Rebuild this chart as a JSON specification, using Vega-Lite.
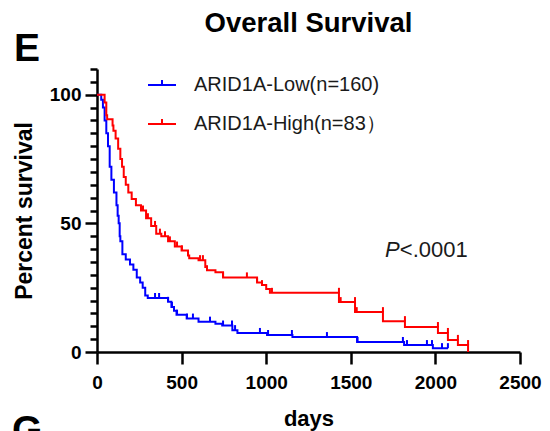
{
  "$schema": "https://vega.github.io/schema/vega-lite/v6.json",
  "width": 423,
  "height": 283,
  "autosize": {"type": "none"},
  "padding": {"left": 97, "top": 69, "right": 30, "bottom": 79},
  "background": "white",
  "title": {"text": "Overall Survival", "font": "Liberation Sans", "fontSize": 27.5, "fontWeight": "bold", "color": "black", "anchor": "middle", "baseline": "alphabetic", "offset": -30, "frame": "group"},
  "config": {
    "view": {"stroke": null},
    "axis": {"domainColor": "black", "domainWidth": 2.5, "tickColor": "black", "tickWidth": 2.5, "labelFont": "Liberation Sans", "labelFontSize": 19, "labelFontWeight": "bold", "labelColor": "black", "titleFont": "Liberation Sans", "titleFontWeight": "bold", "titleColor": "black", "grid": false, "labelOverlap": false}
  },
  "datasets": {
    "curves": [
      {"group": "ARID1A-Low(n=160)", "day": 0, "surv": 100},
      {"group": "ARID1A-Low(n=160)", "day": 25, "surv": 98},
      {"group": "ARID1A-Low(n=160)", "day": 35, "surv": 95},
      {"group": "ARID1A-Low(n=160)", "day": 45, "surv": 90},
      {"group": "ARID1A-Low(n=160)", "day": 55, "surv": 85},
      {"group": "ARID1A-Low(n=160)", "day": 65, "surv": 80},
      {"group": "ARID1A-Low(n=160)", "day": 75, "surv": 72},
      {"group": "ARID1A-Low(n=160)", "day": 85, "surv": 67},
      {"group": "ARID1A-Low(n=160)", "day": 100, "surv": 62},
      {"group": "ARID1A-Low(n=160)", "day": 115, "surv": 57},
      {"group": "ARID1A-Low(n=160)", "day": 122, "surv": 53},
      {"group": "ARID1A-Low(n=160)", "day": 128, "surv": 50},
      {"group": "ARID1A-Low(n=160)", "day": 134, "surv": 45},
      {"group": "ARID1A-Low(n=160)", "day": 138, "surv": 43},
      {"group": "ARID1A-Low(n=160)", "day": 150, "surv": 38},
      {"group": "ARID1A-Low(n=160)", "day": 170, "surv": 36},
      {"group": "ARID1A-Low(n=160)", "day": 195, "surv": 34},
      {"group": "ARID1A-Low(n=160)", "day": 215, "surv": 32},
      {"group": "ARID1A-Low(n=160)", "day": 235, "surv": 29},
      {"group": "ARID1A-Low(n=160)", "day": 255, "surv": 27},
      {"group": "ARID1A-Low(n=160)", "day": 270, "surv": 25},
      {"group": "ARID1A-Low(n=160)", "day": 285, "surv": 22},
      {"group": "ARID1A-Low(n=160)", "day": 300, "surv": 21},
      {"group": "ARID1A-Low(n=160)", "day": 420, "surv": 19.5},
      {"group": "ARID1A-Low(n=160)", "day": 440, "surv": 17.5},
      {"group": "ARID1A-Low(n=160)", "day": 455, "surv": 16},
      {"group": "ARID1A-Low(n=160)", "day": 470, "surv": 14.5},
      {"group": "ARID1A-Low(n=160)", "day": 530, "surv": 13},
      {"group": "ARID1A-Low(n=160)", "day": 600, "surv": 11.8},
      {"group": "ARID1A-Low(n=160)", "day": 700, "surv": 11},
      {"group": "ARID1A-Low(n=160)", "day": 740, "surv": 10.3},
      {"group": "ARID1A-Low(n=160)", "day": 800, "surv": 8.5},
      {"group": "ARID1A-Low(n=160)", "day": 830, "surv": 7.4},
      {"group": "ARID1A-Low(n=160)", "day": 1005, "surv": 6.6},
      {"group": "ARID1A-Low(n=160)", "day": 1155, "surv": 5.8},
      {"group": "ARID1A-Low(n=160)", "day": 1537, "surv": 3.9},
      {"group": "ARID1A-Low(n=160)", "day": 1815, "surv": 2.7},
      {"group": "ARID1A-Low(n=160)", "day": 1985, "surv": 1.5},
      {"group": "ARID1A-Low(n=160)", "day": 2075, "surv": 1.5},
      {"group": "ARID1A-High(n=83）", "day": 0, "surv": 100},
      {"group": "ARID1A-High(n=83）", "day": 35, "surv": 100},
      {"group": "ARID1A-High(n=83）", "day": 45, "surv": 97},
      {"group": "ARID1A-High(n=83）", "day": 55, "surv": 92},
      {"group": "ARID1A-High(n=83）", "day": 60, "surv": 90.5},
      {"group": "ARID1A-High(n=83）", "day": 92, "surv": 88},
      {"group": "ARID1A-High(n=83）", "day": 97, "surv": 86},
      {"group": "ARID1A-High(n=83）", "day": 110, "surv": 83},
      {"group": "ARID1A-High(n=83）", "day": 125, "surv": 79},
      {"group": "ARID1A-High(n=83）", "day": 138, "surv": 75},
      {"group": "ARID1A-High(n=83）", "day": 148, "surv": 72},
      {"group": "ARID1A-High(n=83）", "day": 158, "surv": 68},
      {"group": "ARID1A-High(n=83）", "day": 170, "surv": 65},
      {"group": "ARID1A-High(n=83）", "day": 185, "surv": 62},
      {"group": "ARID1A-High(n=83）", "day": 205, "surv": 59.5},
      {"group": "ARID1A-High(n=83）", "day": 230, "surv": 57},
      {"group": "ARID1A-High(n=83）", "day": 260, "surv": 55},
      {"group": "ARID1A-High(n=83）", "day": 290, "surv": 52},
      {"group": "ARID1A-High(n=83）", "day": 320, "surv": 49},
      {"group": "ARID1A-High(n=83）", "day": 350, "surv": 46},
      {"group": "ARID1A-High(n=83）", "day": 380, "surv": 45},
      {"group": "ARID1A-High(n=83）", "day": 420, "surv": 43},
      {"group": "ARID1A-High(n=83）", "day": 460, "surv": 41},
      {"group": "ARID1A-High(n=83）", "day": 500, "surv": 39.5},
      {"group": "ARID1A-High(n=83）", "day": 538, "surv": 37.5},
      {"group": "ARID1A-High(n=83）", "day": 545, "surv": 36.4},
      {"group": "ARID1A-High(n=83）", "day": 600, "surv": 35.7},
      {"group": "ARID1A-High(n=83）", "day": 640, "surv": 33},
      {"group": "ARID1A-High(n=83）", "day": 650, "surv": 31.8},
      {"group": "ARID1A-High(n=83）", "day": 700, "surv": 31},
      {"group": "ARID1A-High(n=83）", "day": 745, "surv": 29},
      {"group": "ARID1A-High(n=83）", "day": 946, "surv": 27},
      {"group": "ARID1A-High(n=83）", "day": 975, "surv": 26},
      {"group": "ARID1A-High(n=83）", "day": 1000, "surv": 24.5},
      {"group": "ARID1A-High(n=83）", "day": 1022, "surv": 23},
      {"group": "ARID1A-High(n=83）", "day": 1430, "surv": 19.4},
      {"group": "ARID1A-High(n=83）", "day": 1525, "surv": 15.5},
      {"group": "ARID1A-High(n=83）", "day": 1690, "surv": 12},
      {"group": "ARID1A-High(n=83）", "day": 1820, "surv": 9.7},
      {"group": "ARID1A-High(n=83）", "day": 2015, "surv": 7.4},
      {"group": "ARID1A-High(n=83）", "day": 2074, "surv": 4.7},
      {"group": "ARID1A-High(n=83）", "day": 2133, "surv": 2.7},
      {"group": "ARID1A-High(n=83）", "day": 2193, "surv": 0}
    ],
    "censor": [
      {"group": "ARID1A-Low(n=160)", "day": 343, "surv": 21},
      {"group": "ARID1A-Low(n=160)", "day": 367, "surv": 21},
      {"group": "ARID1A-Low(n=160)", "day": 420, "surv": 19.5},
      {"group": "ARID1A-Low(n=160)", "day": 443, "surv": 17.5},
      {"group": "ARID1A-Low(n=160)", "day": 473, "surv": 14.5},
      {"group": "ARID1A-Low(n=160)", "day": 532, "surv": 13},
      {"group": "ARID1A-Low(n=160)", "day": 567, "surv": 13},
      {"group": "ARID1A-Low(n=160)", "day": 668, "surv": 11.8},
      {"group": "ARID1A-Low(n=160)", "day": 745, "surv": 10.3},
      {"group": "ARID1A-Low(n=160)", "day": 798, "surv": 10.3},
      {"group": "ARID1A-Low(n=160)", "day": 816, "surv": 8.5},
      {"group": "ARID1A-Low(n=160)", "day": 963, "surv": 7.4},
      {"group": "ARID1A-Low(n=160)", "day": 1011, "surv": 6.6},
      {"group": "ARID1A-Low(n=160)", "day": 1152, "surv": 6.6},
      {"group": "ARID1A-Low(n=160)", "day": 1359, "surv": 5.8},
      {"group": "ARID1A-Low(n=160)", "day": 1540, "surv": 3.9},
      {"group": "ARID1A-Low(n=160)", "day": 1808, "surv": 3.9},
      {"group": "ARID1A-Low(n=160)", "day": 1832, "surv": 2.7},
      {"group": "ARID1A-Low(n=160)", "day": 1950, "surv": 2.7},
      {"group": "ARID1A-Low(n=160)", "day": 1980, "surv": 2.7},
      {"group": "ARID1A-Low(n=160)", "day": 2039, "surv": 1.5},
      {"group": "ARID1A-Low(n=160)", "day": 2074, "surv": 1.5},
      {"group": "ARID1A-High(n=83）", "day": 272, "surv": 55},
      {"group": "ARID1A-High(n=83）", "day": 301, "surv": 52},
      {"group": "ARID1A-High(n=83）", "day": 343, "surv": 49},
      {"group": "ARID1A-High(n=83）", "day": 372, "surv": 46},
      {"group": "ARID1A-High(n=83）", "day": 402, "surv": 45},
      {"group": "ARID1A-High(n=83）", "day": 431, "surv": 43},
      {"group": "ARID1A-High(n=83）", "day": 473, "surv": 41},
      {"group": "ARID1A-High(n=83）", "day": 502, "surv": 39.5},
      {"group": "ARID1A-High(n=83）", "day": 538, "surv": 37.5},
      {"group": "ARID1A-High(n=83）", "day": 609, "surv": 35.7},
      {"group": "ARID1A-High(n=83）", "day": 626, "surv": 35.7},
      {"group": "ARID1A-High(n=83）", "day": 650, "surv": 31.8},
      {"group": "ARID1A-High(n=83）", "day": 745, "surv": 29},
      {"group": "ARID1A-High(n=83）", "day": 886, "surv": 29},
      {"group": "ARID1A-High(n=83）", "day": 946, "surv": 27},
      {"group": "ARID1A-High(n=83）", "day": 975, "surv": 26},
      {"group": "ARID1A-High(n=83）", "day": 1034, "surv": 23},
      {"group": "ARID1A-High(n=83）", "day": 1430, "surv": 23},
      {"group": "ARID1A-High(n=83）", "day": 1440, "surv": 19.4},
      {"group": "ARID1A-High(n=83）", "day": 1525, "surv": 19.4},
      {"group": "ARID1A-High(n=83）", "day": 1535, "surv": 15.5},
      {"group": "ARID1A-High(n=83）", "day": 1690, "surv": 15.5},
      {"group": "ARID1A-High(n=83）", "day": 1820, "surv": 12},
      {"group": "ARID1A-High(n=83）", "day": 2015, "surv": 9.7},
      {"group": "ARID1A-High(n=83）", "day": 2074, "surv": 7.4},
      {"group": "ARID1A-High(n=83）", "day": 2133, "surv": 4.7},
      {"group": "ARID1A-High(n=83）", "day": 2193, "surv": 2.7}
    ],
    "panelE": [{"label": "E", "day": -490, "surv": 113.2}],
    "panelG": [{"label": "G", "day": -502, "surv": -35.3}],
    "pItalic": [{"label": "P", "day": 1702, "surv": 36.8}],
    "pRest": [{"label": "<.0001", "day": 1790, "surv": 36.8}]
  },
  "encoding": {
    "x": {"field": "day", "type": "quantitative", "scale": {"domain": [0, 2500], "nice": false, "zero": false},
      "axis": {"values": [0, 500, 1000, 1500, 2000, 2500], "format": "d", "title": "days", "titleFontSize": 22, "tickSize": 12, "labelPadding": 9, "titlePadding": 16, "labelFlush": false}},
    "y": {"field": "surv", "type": "quantitative", "scale": {"domain": [0, 110], "nice": false},
      "axis": {"values": [0, 5, 10, 15, 20, 25, 30, 35, 40, 45, 50, 55, 60, 65, 70, 75, 80, 85, 90, 95, 100, 105, 110], "title": "Percent survival", "titleFontSize": 23, "tickSize": {"condition": {"test": "datum.value % 50 === 0", "value": 12}, "value": 7}, "labelExpr": "datum.value % 50 === 0 ? datum.label : ''", "labelPadding": 4, "titlePadding": 13}}
  },
  "layer": [
    {
      "data": {"name": "curves"},
      "mark": {"type": "line", "interpolate": "step-after", "strokeWidth": 2},
      "encoding": {
        "color": {"field": "group", "type": "nominal", "sort": null,
          "scale": {"domain": ["ARID1A-Low(n=160)", "ARID1A-High(n=83）"], "range": ["#0000ff", "#ff0000"]},
          "legend": {"orient": "none", "legendX": 50, "legendY": 1, "title": null, "symbolType": "M-1,0L1,0M0,0L0,-0.35", "symbolSize": 784, "symbolStrokeWidth": 2, "symbolFillColor": "transparent", "labelFont": "Liberation Sans", "labelFontSize": 20, "labelColor": "#1a1a1a", "labelOffset": 17, "labelLimit": 400, "rowPadding": 14, "padding": 0}}
      }
    },
    {
      "data": {"name": "censor"},
      "mark": {"type": "point", "shape": "M0,0L0,-1", "size": 100, "filled": false, "strokeWidth": 2, "opacity": 1},
      "encoding": {
        "color": {"field": "group", "type": "nominal", "sort": null}
      }
    },
    {
      "data": {"name": "panelE"},
      "mark": {"type": "text", "font": "Liberation Sans", "fontSize": 39, "fontWeight": "bold", "align": "left", "baseline": "alphabetic", "color": "black"},
      "encoding": {"text": {"field": "label"}}
    },
    {
      "data": {"name": "panelG"},
      "mark": {"type": "text", "font": "Liberation Sans", "fontSize": 39, "fontWeight": "bold", "align": "left", "baseline": "alphabetic", "color": "black"},
      "encoding": {"text": {"field": "label"}}
    },
    {
      "data": {"name": "pItalic"},
      "mark": {"type": "text", "font": "Liberation Sans", "fontSize": 22, "fontStyle": "italic", "align": "left", "baseline": "alphabetic", "color": "#1a1a1a"},
      "encoding": {"text": {"field": "label"}}
    },
    {
      "data": {"name": "pRest"},
      "mark": {"type": "text", "font": "Liberation Sans", "fontSize": 22, "align": "left", "baseline": "alphabetic", "color": "#1a1a1a"},
      "encoding": {"text": {"field": "label"}}
    }
  ]
}
